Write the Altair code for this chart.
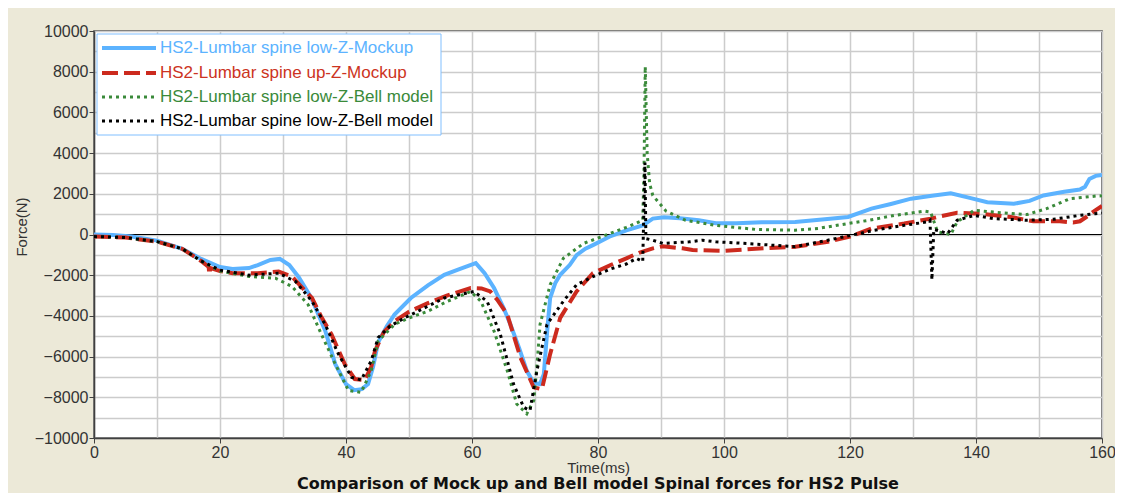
import altair as alt
import pandas as pd

# ---------------- data ----------------
names = [
    "HS2-Lumbar spine low-Z-Mockup",
    "HS2-Lumbar spine up-Z-Mockup",
    "HS2-Lumbar spine low-Z-Bell model",
    "HS2-Lumbar spine low-Z-Bell model",
]
colors = ["#5CB3FF", "#CC2A1E", "#3A8A3A", "#000000"]
label_colors = ["#5CB3FF", "#CC3322", "#3A8A3A", "#000000"]

blue_t = [0, 3, 6, 10, 14, 17, 20, 22, 24.6, 26, 28, 29.5, 31, 32.5, 34.5, 36.7, 38.3, 40, 41.3,
          42.5, 43.5, 44.3, 45.1, 46.5, 47.7, 50.3, 53, 55.6, 58, 60.6, 62, 63.5, 65, 66.1, 67.5,
          68.7, 69.8, 70.8, 71.4, 72.0, 72.4, 73.2, 74, 75.5, 76.6, 78, 79.2, 81.8, 84.5, 87.1,
          88.7, 90.5, 93, 96, 98.7, 102, 106, 111.3, 116, 119.7, 123.4, 126.5, 129.7, 133, 136,
          139, 141.8, 146, 148.5, 150.7, 154, 156.5, 157.3, 158, 159, 160]
blue_v = [0, -20, -100, -300, -700, -1200, -1600, -1700, -1650, -1500, -1250, -1200, -1500, -2100,
          -3120, -4730, -6370, -7350, -7650, -7600, -7350, -6500, -5300, -4500, -3930, -3120,
          -2500, -1980, -1700, -1410, -1900, -2630, -3600, -4420, -5600, -6700, -7300, -7350,
          -6860, -4500, -3120, -2400, -1980, -1500, -1010, -700, -520, -110, 200, 450, 780, 850,
          800, 700, 550, 550, 600, 620, 750, 860, 1270, 1500, 1760, 1900, 2030, 1800, 1590, 1510,
          1650, 1920, 2100, 2210, 2350, 2730, 2880, 2930]

red_t = [0, 5, 10, 14, 17, 18.2, 18.3, 18.5, 20, 22, 26, 29.3, 31.4, 33, 34.6, 36, 37.7, 39.8,
         41.4, 43, 44, 44.6, 46, 47.7, 50, 53, 56, 59.8, 61.5, 62.9, 64, 65.6, 67.7, 69.8, 71.1,
         72.4, 74, 76.6, 79.2, 82, 84.5, 86.5, 88.7, 90.3, 93.4, 95, 100, 105, 111.3, 116.5, 120,
         123.4, 128.6, 132.8, 133.9, 137, 140.7, 145.5, 149.1, 153.3, 155.4, 156.5, 157.5, 159,
         160]
red_v = [-100, -150, -350, -700, -1300, -1600, -1950, -1650, -1800, -1900, -1900, -1820, -2060,
         -2600, -3120, -4000, -4910, -6370, -7100, -7150, -6500, -5720, -4800, -4260, -3800,
         -3370, -3000, -2630, -2650, -2800, -3200, -3930, -6050, -7510, -7600, -5880, -4100,
         -2800, -1900, -1500, -1170, -900, -680, -580, -680, -765, -800, -700, -600, -360, -100,
         290, 540, 780, 860, 1070, 1020, 860, 650, 650, 590, 650, 860, 1200, 1400]

green_t = [0, 5, 10, 14, 17, 20, 24.6, 28.8, 31.4, 34, 36.1, 38.3, 40.4, 42.4, 44, 45.1, 47.7,
           50, 53, 56, 59.8, 61.4, 63.5, 65.6, 67.1, 68.7, 69.8, 70.3, 70.8, 72.4, 74.5, 77.7,
           81.9, 84.5, 87.1, 87.3, 87.5, 87.8, 88.2, 88.7, 90.8, 93.9, 98.7, 105, 111.3, 115,
           119.7, 123, 127.1, 131.8, 132.8, 133.9, 136, 137, 139.7, 142.8, 148.1, 151.2, 154.9,
           159.1, 160]
green_v = [-100, -150, -350, -700, -1300, -1800, -2060, -2150, -2550, -3450, -4910, -6370, -7670,
           -7760, -6700, -5230, -4420, -4100, -3770, -3300, -2800, -3280, -4750, -6700, -8330,
           -8810, -8160, -6500, -4420, -2470, -1170, -440, 50, 350, 700, 3000, 8260, 4000, 2500,
           1920, 1150, 700, 450, 250, 210, 300, 540, 700, 940, 1150, 1100, 130, 0, 620, 1190,
           1100, 980, 1270, 1760, 1890, 1900]

black_t = [0, 5, 10, 14, 17, 20, 24.6, 29.3, 32, 34.6, 36.7, 38.8, 40.9, 42.4, 44, 45.1, 47, 49.3,
           55.6, 60.3, 62.4, 64.5, 66.6, 68.2, 69.2, 70.3, 71.9, 74.5, 76.6, 79, 81.9, 84.5, 86.1,
           87.1, 87.45, 87.6, 88.7, 90.3, 94.5, 96.6, 98.7, 104, 111.3, 116.5, 120, 123.9, 128.6,
           132.3, 132.7, 133.0, 133.3, 135.5, 137, 139.7, 142.8, 148.1, 152.3, 156.5, 158.9, 160]
black_v = [-100, -150, -350, -700, -1300, -1750, -2000, -1900, -2310, -3280, -4420, -5880, -7020,
           -7150, -6210, -5070, -4500, -4100, -3120, -2800, -3280, -4910, -7350, -8490, -8650,
           -6700, -4420, -3280, -2470, -2100, -1700, -1450, -1170, -1330, 3540, -200, -280, -440,
           -360, -280, -360, -450, -600, -280, -50, 210, 450, 620, 700, -2230, 250, 50, 700, 940,
           780, 700, 750, 940, 1020, 1050]

zero_line = [0]
x_ticks = list(range(0, 161, 10))
y_ticks = list(range(-10000, 10001, 1000))

series = [(blue_t, blue_v), (red_t, red_v), (green_t, green_v), (black_t, black_v)]
styles = [
    dict(strokeWidth=4),
    dict(strokeWidth=4, strokeDash=[16, 6]),
    dict(strokeWidth=3, strokeDash=[3, 4]),
    dict(strokeWidth=3, strokeDash=[3, 4]),
]

FONT = "Liberation Sans"
TXT = "#333333"
W, H = 1008, 407

tick_x = {"condition": {"test": "datum.value % 20 === 0", "value": 1}, "value": 0}
tick_y = {"condition": {"test": "datum.value % 2000 === 0", "value": 1}, "value": 0}

x_enc = alt.X(
    "t:Q",
    scale=alt.Scale(domain=[0, 160], nice=False, zero=False),
    axis=alt.Axis(
        values=x_ticks, format="d",
        labelExpr="datum.value % 20 === 0 ? datum.label : ''",
        tickOpacity=tick_x, labelFlush=False, labelOverlap=False,
        title="Time(ms)", titleX=W / 2, titleY=29, titleBaseline="middle",
        titleAlign="center",
    ),
)
y_enc = alt.Y(
    "f:Q",
    scale=alt.Scale(domain=[-10000, 10000], nice=False),
    axis=alt.Axis(
        values=y_ticks, format="d",
        labelExpr="datum.value % 2000 === 0 ? datum.label : ''",
        tickOpacity=tick_y, labelOverlap=False, labelFlush=False,
        title="Force(N)", titleX=-73, titleY=H / 2 - 8, titleAngle=-90,
        titleBaseline="middle", titleAlign="center",
    ),
)

layers = []
for i, ((ts, vs), st) in enumerate(zip(series, styles)):
    d = pd.DataFrame({"t": ts, "f": vs})
    layers.append(
        alt.Chart(d).mark_line(color=colors[i], clip=True, **st).encode(
            x=x_enc, y=y_enc, order="t:Q"
        )
    )
    if i == 0:
        # zero line drawn right above the grid, below the curves
        layers.insert(
            0,
            alt.Chart(pd.DataFrame({"f": zero_line})).mark_rule(color="black", strokeWidth=1).encode(
                y=y_enc
            ),
        )

# legend box
layers.append(
    alt.Chart(pd.DataFrame({"k": [0]})).mark_rect(
        fill="white", stroke="#80BFFF", strokeWidth=1
    ).encode(x=alt.value(3), x2=alt.value(347), y=alt.value(3), y2=alt.value(104))
)
row_y = [17, 42, 66, 90]
for i in range(4):
    st = styles[i]
    layers.append(
        alt.Chart(pd.DataFrame({"k": [0]})).mark_rule(color=colors[i], **st).encode(
            x=alt.value(8), x2=alt.value(62), y=alt.value(row_y[i])
        )
    )
    layers.append(
        alt.Chart(pd.DataFrame({"label": [names[i]]})).mark_text(
            align="left", baseline="middle", font=FONT, fontSize=17, color=label_colors[i]
        ).encode(x=alt.value(66), y=alt.value(row_y[i]), text="label:N")
    )

chart = (
    alt.layer(*layers)
    .properties(
        width=W, height=H,
        padding={"left": 86, "top": 23, "right": 13, "bottom": 55},
        autosize=alt.AutoSizeParams(type="none"),
        background="#ECE9D8",
        title=alt.TitleParams(
            "Comparison of Mock up and Bell model Spinal forces for HS2 Pulse",
            orient="bottom", anchor="middle", frame="group", offset=1,
            font="DejaVu Sans", fontSize=16, fontWeight="bold", color="#111111",
        ),
    )
    .configure_view(fill="white", stroke="#404040", strokeWidth=1.5)
    .configure_axis(
        grid=True, gridColor="#CCCCCC", gridWidth=1.5,
        domainColor="#404040", domainWidth=1.5,
        tickColor="#404040", tickSize=5, tickWidth=1,
        labelFont=FONT, labelFontSize=16, labelColor=TXT, labelPadding=1,
        titleFont=FONT, titleFontSize=15, titleFontWeight="normal", titleColor=TXT,
    )
)

chart.save("out.html", embed_options={"renderer": "svg", "actions": False})
